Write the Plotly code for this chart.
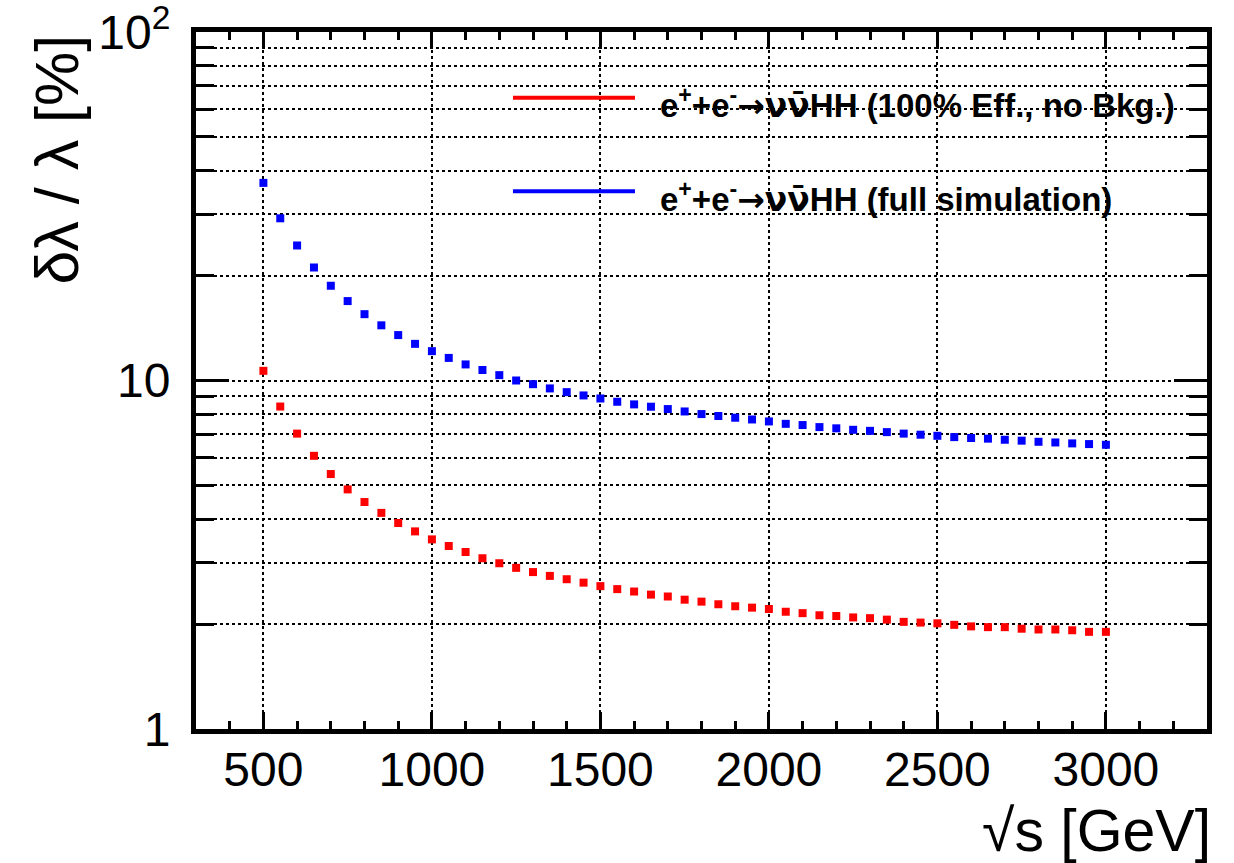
import plotly.graph_objects as go

energies = list(range(500, 3001, 50))

full_sim = [36.9, 29.2, 24.4, 21.1, 18.7, 16.9, 15.5, 14.4, 13.5, 12.74,
            12.14, 11.61, 11.12, 10.72, 10.36, 10.0, 9.76, 9.49, 9.26, 9.06,
            8.88, 8.69, 8.54, 8.41, 8.28, 8.15, 8.01, 7.91, 7.82, 7.73,
            7.63, 7.51, 7.45, 7.35, 7.29, 7.22, 7.17, 7.11, 7.04, 6.99,
            6.94, 6.88, 6.84, 6.81, 6.76, 6.72, 6.67, 6.64, 6.60, 6.57, 6.54]

ideal = [10.66, 8.42, 7.04, 6.08, 5.39, 4.87, 4.48, 4.17, 3.90, 3.69,
         3.50, 3.35, 3.22, 3.09, 2.99, 2.90, 2.82, 2.75, 2.69, 2.63,
         2.57, 2.52, 2.48, 2.43, 2.40, 2.35, 2.32, 2.28, 2.25, 2.23,
         2.21, 2.17, 2.15, 2.12, 2.11, 2.09, 2.08, 2.06, 2.03, 2.02,
         2.01, 1.99, 1.97, 1.96, 1.96, 1.94, 1.93, 1.93, 1.92, 1.90, 1.90]

ARROW_NU = "<span style=\"font-family:'DejaVu Sans'\">\u2192\u03bd\u03bd\u0304</span>"
legend_labels = ["e<sup>+</sup>+e<sup>-</sup>" + ARROW_NU + "HH (100% Eff., no Bkg.)",
                 "e<sup>+</sup>+e<sup>-</sup>" + ARROW_NU + "HH (full simulation)"]

x_ticks = [500, 1000, 1500, 2000, 2500, 3000]
x_minor = list(range(300, 3301, 100))
y_ticks = [1, 10, 100]
y_ticktext = ["1", "10", "10<sup>2</sup>"]
y_minor = [2, 3, 4, 5, 6, 7, 8, 9, 20, 30, 40, 50, 60, 70, 80, 90]

FONT = "Liberation Sans, Arial, sans-serif"

fig = go.Figure()
fig.add_trace(go.Scatter(x=energies, y=ideal, mode="markers",
                         marker=dict(symbol="square", size=8, color="#ff0000"),
                         showlegend=False))
fig.add_trace(go.Scatter(x=energies, y=full_sim, mode="markers",
                         marker=dict(symbol="square", size=8, color="#0000ff"),
                         showlegend=False))

fig.update_xaxes(range=[300, 3300], tickvals=x_ticks, automargin=False,
                 showline=True, linewidth=5, linecolor="black", mirror="allticks",
                 ticks="inside", ticklen=17, tickwidth=3, tickcolor="black",
                 showgrid=True, gridcolor="black", griddash="dot", gridwidth=1.5,
                 zeroline=False, ticklabelstandoff=-6,
                 tickfont=dict(family=FONT, size=48, color="black"),
                 minor=dict(tickvals=x_minor, ticks="inside", ticklen=8, tickwidth=3,
                            tickcolor="black", showgrid=False))
fig.update_yaxes(type="log", range=[0, 2], tickvals=y_ticks, ticktext=y_ticktext,
                 automargin=False,
                 showline=True, linewidth=5, linecolor="black", mirror="allticks",
                 ticks="inside", ticklen=33, tickwidth=3, tickcolor="black",
                 showgrid=True, gridcolor="black", griddash="dot", gridwidth=1.5,
                 zeroline=False, ticklabelstandoff=11, ticklabeloverflow="allow",
                 tickfont=dict(family=FONT, size=48, color="black"),
                 minor=dict(tickvals=y_minor, ticks="inside", ticklen=18, tickwidth=3,
                            tickcolor="black", showgrid=True, gridcolor="black",
                            griddash="dot", gridwidth=1.5))

# legend drawn as ROOT-style entries
legend_colors = ["#ff0000", "#0000ff"]
line_y = [0.9057, 0.7717]
text_y = [0.897, 0.7627]
for lab, col, ly, ty in zip(legend_labels, legend_colors, line_y, text_y):
    fig.add_shape(type="line", xref="paper", yref="paper", x0=0.3135, x1=0.4342,
                  y0=ly, y1=ly, line=dict(color=col, width=4))
    fig.add_annotation(xref="paper", yref="paper", x=0.4570, y=ty, xanchor="left",
                       yanchor="middle", showarrow=False, text="<b>" + lab + "</b>",
                       font=dict(family=FONT, size=33, color="black"))

fig.add_annotation(xref="paper", yref="paper", x=1.006, y=-0.1463, xanchor="right",
                   yanchor="middle", showarrow=False, text="\u221as [GeV]",
                   font=dict(family=FONT, size=59, color="black"))
fig.add_annotation(xref="paper", yref="paper", x=-0.1370, y=1.0, xanchor="center",
                   yanchor="top", showarrow=False, textangle=-90,
                   text="\u03b4\u03bb / \u03bb [%]",
                   font=dict(family=FONT, size=61, color="black"))

fig.update_layout(width=1234, height=863, plot_bgcolor="white", paper_bgcolor="white",
                  margin=dict(l=196, r=27, t=32, b=134), showlegend=False)

fig.write_html("out.html", config={"displayModeBar": False},
               post_script="document.body.style.margin='0';")
